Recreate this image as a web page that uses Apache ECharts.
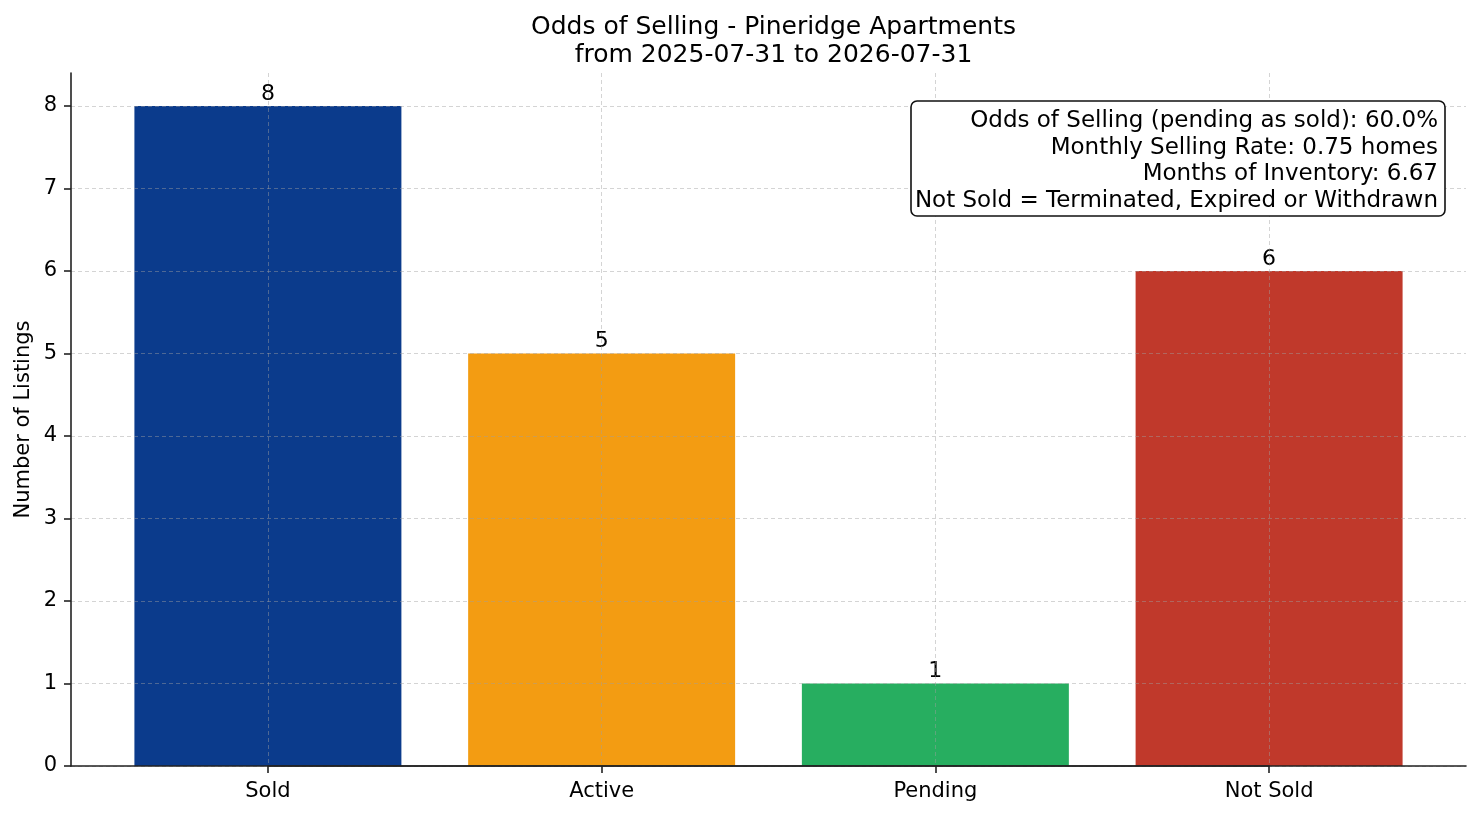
<!DOCTYPE html>
<html>
<head>
<meta charset="utf-8">
<script src="https://cdn.jsdelivr.net/npm/echarts@6/dist/echarts.min.js"></script>
<style>
  html, body { margin: 0; padding: 0; background: #fff; }
  #chart { width: 1481px; height: 816px; }
</style>
</head>
<body>
<div id="chart"></div>
<script>
const categories = ['Sold', 'Active', 'Pending', 'Not Sold'];
const counts = [8, 5, 1, 6];
const barColors = ['#0b3b8c', '#f39c12', '#27ae60', '#c0392b'];
const titleLines = ['Odds of Selling - Pineridge Apartments', 'from 2025-07-31 to 2026-07-31'];
const noteLines = [
  'Odds of Selling (pending as sold): 60.0%',
  'Monthly Selling Rate: 0.75 homes',
  'Months of Inventory: 6.67',
  'Not Sold = Terminated, Expired or Withdrawn'
];

const font = 'DejaVu Sans';
const chart = echarts.init(document.getElementById('chart'), null, { renderer: 'canvas' });

// plot box (matplotlib axes); x data range -0.59 .. n-0.41 like matplotlib margins
const W = 1481;
const plot = { left: 71, right: 1466, top: 73, bottom: 766 };
const xLo = -0.59;
const xHi = categories.length - 1 + 0.59;
const unit = (plot.right - plot.left) / (xHi - xLo);
const xAt = v => plot.left + (v - xLo) * unit;
const yMax = 8.4;
const yTopTick = 8;
const lastIdx = categories.length - 1;

const gridLine = {
  show: true,
  lineStyle: { color: 'rgba(160,160,160,0.45)', type: [4, 3], width: 1 }
};
const spine = { color: '#222', width: 1.6 };
const tickLabel = { fontFamily: font, fontSize: 21, color: '#000' };
const hidden = {
  axisLine: { show: false, onZero: false },
  axisTick: { show: false },
  axisLabel: { show: false },
  splitLine: { show: false }
};
const noBounds = { outerBoundsMode: 'none', containLabel: false };

chart.setOption({
  backgroundColor: '#ffffff',
  animation: false,
  title: {
    text: titleLines.join('\n'),
    left: (plot.left + plot.right) / 2,
    textAlign: 'center',
    top: 8,
    textStyle: { fontFamily: font, fontSize: 25, fontWeight: 'normal', color: '#000', lineHeight: 28 }
  },
  grid: [
    // 0: bars, band axis from -0.5 to n-0.5
    Object.assign({ left: xAt(-0.5), right: W - xAt(lastIdx + 0.5), top: plot.top, bottom: 816 - plot.bottom }, noBounds),
    // 1: numeric ticks 0..8, spines
    Object.assign({ left: plot.left, right: W - plot.right,
      top: plot.bottom - (plot.bottom - plot.top) * yTopTick / yMax, bottom: 816 - plot.bottom }, noBounds),
    // 2: category ticks, labels and vertical grid from first to last bar centre
    Object.assign({ left: xAt(0), right: W - xAt(lastIdx), top: plot.top, bottom: 816 - plot.bottom }, noBounds)
  ],
  xAxis: [
    Object.assign({ gridIndex: 0, type: 'category', data: categories }, hidden),
    {
      gridIndex: 1,
      type: 'value',
      min: 0,
      max: 1,
      z: 3,
      axisLine: { show: true, onZero: false, lineStyle: spine },
      axisTick: { show: false },
      axisLabel: { show: false },
      splitLine: { show: false }
    },
    {
      gridIndex: 2,
      type: 'value',
      min: 0,
      max: lastIdx,
      interval: 1,
      z: 3,
      axisLine: { show: true, onZero: false, lineStyle: spine },
      axisTick: { show: true, length: 7, lineStyle: spine },
      axisLabel: Object.assign({
        margin: 15,
        showMinLabel: true,
        showMaxLabel: true,
        formatter: v => categories[Math.round(v)]
      }, tickLabel),
      splitLine: gridLine
    }
  ],
  yAxis: [{
    gridIndex: 0,
    type: 'value',
    min: 0,
    max: yMax,
    offset: xAt(-0.5) - plot.left,
    z: 3,
    name: 'Number of Listings',
    nameLocation: 'middle',
    nameGap: 37,
    nameMoveOverlap: false,
    nameRotate: 90,
    nameTextStyle: tickLabel,
    axisLine: { show: true, onZero: false, lineStyle: spine },
    axisTick: { show: false },
    axisLabel: { show: false },
    splitLine: { show: false }
  }, {
    gridIndex: 1,
    type: 'value',
    min: 0,
    max: yTopTick,
    interval: 1,
    z: 3,
    axisLine: { show: false, onZero: false },
    axisTick: { show: true, length: 7, lineStyle: spine },
    axisLabel: Object.assign({ margin: 14 }, tickLabel),
    splitLine: gridLine
  },
    Object.assign({ gridIndex: 2, type: 'value', min: 0, max: yMax }, hidden)
  ],
  series: [{
    type: 'bar',
    xAxisIndex: 0,
    yAxisIndex: 0,
    barWidth: '80%',
    data: counts.map((v, i) => ({ value: v, itemStyle: { color: barColors[i] } })),
    label: {
      show: true,
      position: 'top',
      distance: 1,
      fontFamily: font, fontSize: 22, color: '#000'
    }
  }],
  graphic: [{
    type: 'rect',
    z: 10,
    shape: { x: 911, y: 101, width: 534, height: 115, r: 6 },
    style: { fill: '#fff', stroke: '#111', lineWidth: 1.6 }
  }, {
    type: 'text',
    z: 11,
    x: 1438,
    y: 108,
    style: {
      text: noteLines.join('\n'),
      align: 'right',
      verticalAlign: 'top',
      fontFamily: font,
      fontSize: 23,
      lineHeight: 26.5,
      fill: '#000'
    }
  }]
});
</script>
</body>
</html>
